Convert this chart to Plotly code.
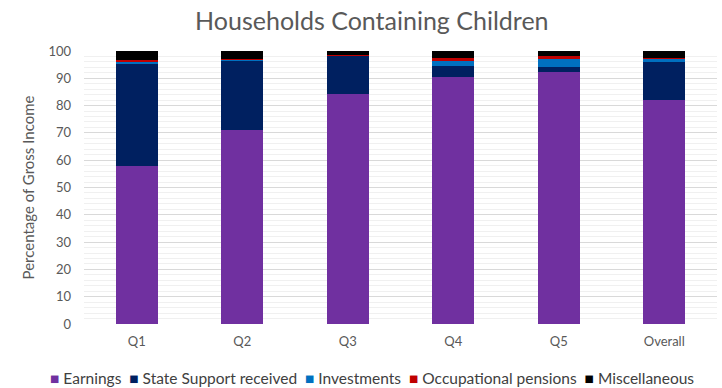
import plotly.graph_objects as go

categories = ["Q1", "Q2", "Q3", "Q4", "Q5", "Overall"]

earnings = [58.0, 71.2, 84.3, 90.6, 92.4, 82.0]
state_support = [37.5, 25.0, 13.9, 3.9, 1.8, 14.0]
investments = [0.4, 0.8, 0.2, 1.7, 2.8, 1.1]
occupational_pensions = [0.9, 0.2, 0.1, 1.1, 1.3, 0.3]
miscellaneous = [3.2, 2.8, 1.5, 2.7, 1.7, 2.6]

y_ticks = list(range(0, 101, 10))

series = [
    ("Earnings", earnings, "#7030A0"),
    ("State Support received", state_support, "#002060"),
    ("Investments", investments, "#0070C0"),
    ("Occupational pensions", occupational_pensions, "#C00000"),
    ("Miscellaneous", miscellaneous, "#000000"),
]

fig = go.Figure()
for name, values, color in series:
    fig.add_trace(go.Bar(
        x=categories, y=values, name=name,
        marker=dict(color=color, line=dict(width=0)),
    ))

font_family = "Lato, 'Open Sans', sans-serif"

# Single-row key below the chart: coloured squares followed by series names
key_text = "&nbsp; ".join(
    f"<span style='color:{color}'>■</span>&nbsp;{name}" for name, _, color in series
)

fig.update_layout(
    barmode="stack",
    bargap=0.6,
    width=722, height=388,
    margin=dict(l=84, r=5, t=51, b=64, autoexpand=False),
    paper_bgcolor="white",
    plot_bgcolor="white",
    font=dict(family=font_family, color="#595959", size=13),
    title=dict(
        text="Households Containing Children",
        x=0.515, xanchor="center", y=0.945, yanchor="middle",
        font=dict(size=25, color="#595959", family=font_family),
    ),
    showlegend=False,
    annotations=[dict(
        text=key_text,
        xref="paper", yref="paper",
        x=0.455, y=-0.198, xanchor="center", yanchor="middle",
        showarrow=False,
        font=dict(size=15.5, color="#404040", family=font_family),
    )],
)

fig.update_xaxes(
    showgrid=False, showline=False, ticks="",
    ticklabelstandoff=8,
    tickfont=dict(size=13, color="#595959"),
)
fig.update_yaxes(
    range=[0, 100],
    tickvals=y_ticks,
    ticktext=[str(v) for v in y_ticks],
    showgrid=True, gridcolor="#D9D9D9", gridwidth=1,
    minor=dict(dtick=2, showgrid=True, gridcolor="#F0F0F0", gridwidth=1),
    zeroline=False, showline=False, ticks="",
    ticklabelstandoff=12,
    tickfont=dict(size=13, color="#595959"),
    title=dict(text="Percentage of Gross Income", font=dict(size=15, color="#595959"), standoff=10),
)

fig.write_html("out.html")
